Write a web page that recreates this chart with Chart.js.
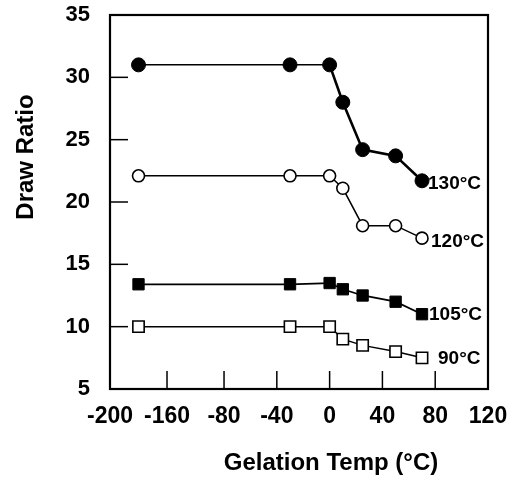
<!DOCTYPE html>
<html>
<head>
<meta charset="utf-8">
<script src="https://cdn.jsdelivr.net/npm/chart.js@4/dist/chart.umd.min.js"></script>
<style>
  html, body { margin: 0; padding: 0; background: #fff; }
  canvas { display: block; }
</style>
</head>
<body>
<canvas id="c" width="521" height="495"></canvas>
<script>
// ---- data ----
const gelationTemps = [-180, -30, 0, 10, 25, 50, 70];
const draw130 = [31.0, 31.0, 31.0, 28.0, 24.2, 23.7, 21.7];
const draw120 = [22.1, 22.1, 22.1, 21.1, 18.1, 18.1, 17.1];
const draw105 = [13.4, 13.4, 13.5, 13.0, 12.5, 12.0, 11.0];
const draw90  = [10.0, 10.0, 10.0, 9.0, 8.5, 8.0, 7.5];
const seriesNames = ['130\u00B0C', '120\u00B0C', '105\u00B0C', '90\u00B0C'];
const xTickLabels = ['-200', '-160', '-80', '-40', '0', '40', '80', '120'];
const xTickValues = [-200, -160, -80, -40, 0, 40, 80, 120];
const yMin = 5, yMax = 35, yStep = 5;
const xTitle = 'Gelation Temp (\u00B0C)';
const yTitle = 'Draw Ratio';

// broken x axis: the left part (-200..-80) is compressed
const axisKnots = [[-200, -166.4], [-160, -123.2], [-80, -80], [120, 120]];
function toAxis(x) {
  for (let i = 0; i < axisKnots.length - 1; i++) {
    const [a0, p0] = axisKnots[i], [a1, p1] = axisKnots[i + 1];
    if (x <= a1 || i === axisKnots.length - 2) {
      return p0 + (x - a0) * (p1 - p0) / (a1 - a0);
    }
  }
}
const pts = arr => arr.map((v, i) => ({ x: toAxis(gelationTemps[i]), y: v }));

const FONT = '"Liberation Sans", Arial, Helvetica, sans-serif';

const framePlugin = {
  id: 'frame',
  beforeDatasetsDraw(chart) {
    const { ctx, chartArea: a, scales } = chart;
    ctx.save();
    ctx.strokeStyle = '#000';
    ctx.lineWidth = 1.5;
    const tl = 18;
    // inner y ticks
    for (let v = yMin + yStep; v < yMax; v += yStep) {
      const y = scales.y.getPixelForValue(v);
      ctx.beginPath(); ctx.moveTo(a.left, y); ctx.lineTo(a.left + tl, y); ctx.stroke();
    }
    // inner x ticks
    xTickValues.slice(1, -1).forEach(v => {
      const x = scales.x.getPixelForValue(toAxis(v));
      ctx.beginPath(); ctx.moveTo(x, a.bottom); ctx.lineTo(x, a.bottom - tl); ctx.stroke();
    });
    ctx.lineWidth = 2.2;
    ctx.strokeRect(a.left, a.top, a.right - a.left, a.bottom - a.top);
    ctx.restore();
  },
  afterDraw(chart) {
    const { ctx } = chart;
    ctx.save();
    ctx.fillStyle = '#000';
    // series labels next to the last point of each line
    const offs = [[6, 3], [9, 4], [7, 1], [16, 1]];
    ctx.font = 'bold 19px ' + FONT;
    ctx.textAlign = 'left';
    ctx.textBaseline = 'middle';
    chart.data.datasets.forEach((ds, i) => {
      const meta = chart.getDatasetMeta(i);
      const p = meta.data[meta.data.length - 1];
      ctx.fillText(seriesNames[i], p.x + offs[i][0], p.y + offs[i][1]);
    });
    // axis titles
    ctx.font = 'bold 24px ' + FONT;
    ctx.textAlign = 'center';
    ctx.fillText(xTitle, 331, 463);
    ctx.translate(26, 157);
    ctx.rotate(-Math.PI / 2);
    ctx.fillText(yTitle, 0, 0);
    ctx.restore();
  }
};

new Chart(document.getElementById('c'), {
  type: 'line',
  data: {
    datasets: [
      { label: seriesNames[0], data: pts(draw130), borderColor: '#000', backgroundColor: '#000',
        borderWidth: 1.5, pointStyle: 'circle', pointRadius: 7, pointBorderWidth: 1,
        pointBackgroundColor: '#000',
        segment: { borderWidth: c => c.p0DataIndex >= 2 ? 2.6 : 1.5 } },
      { label: seriesNames[1], data: pts(draw120), borderColor: '#000', backgroundColor: '#fff',
        borderWidth: 1.5, pointStyle: 'circle', pointRadius: 6, pointBorderWidth: 1.6,
        pointBackgroundColor: '#fff' },
      { label: seriesNames[2], data: pts(draw105), borderColor: '#000', backgroundColor: '#000',
        borderWidth: 1.8, pointStyle: 'rect', pointRadius: 8, pointBorderWidth: 1,
        pointBackgroundColor: '#000' },
      { label: seriesNames[3], data: pts(draw90), borderColor: '#000', backgroundColor: '#fff',
        borderWidth: 1.5, pointStyle: 'rect', pointRadius: 8, pointBorderWidth: 1.6,
        pointBackgroundColor: '#fff' }
    ]
  },
  options: {
    responsive: false,
    animation: false,
    events: [],
    layout: { padding: { top: 15, right: 33, left: 0, bottom: 0 } },
    plugins: { legend: { display: false }, tooltip: { enabled: false }, title: { display: false } },
    scales: {
      x: {
        type: 'linear',
        min: toAxis(-200), max: toAxis(120),
        afterFit: s => { s.height = 106; s.paddingLeft = 0; s.paddingRight = 0; },
        afterBuildTicks: s => { s.ticks = xTickValues.map(v => ({ value: toAxis(v) })); },
        grid: { display: false, drawTicks: false },
        border: { display: false },
        ticks: {
          autoSkip: false, maxRotation: 0, padding: 14, color: '#000',
          font: { family: FONT, size: 23, weight: 'bold' },
          callback: (v, i) => xTickLabels[i]
        }
      },
      y: {
        type: 'linear',
        min: yMin, max: yMax,
        afterFit: s => { s.width = 110; s.paddingTop = 0; s.paddingBottom = 0; },
        grid: { display: false, drawTicks: false },
        border: { display: false },
        ticks: {
          stepSize: yStep, padding: 20, color: '#000',
          font: { family: FONT, size: 22, weight: 'bold' }
        }
      }
    }
  },
  plugins: [framePlugin]
});
</script>
</body>
</html>
